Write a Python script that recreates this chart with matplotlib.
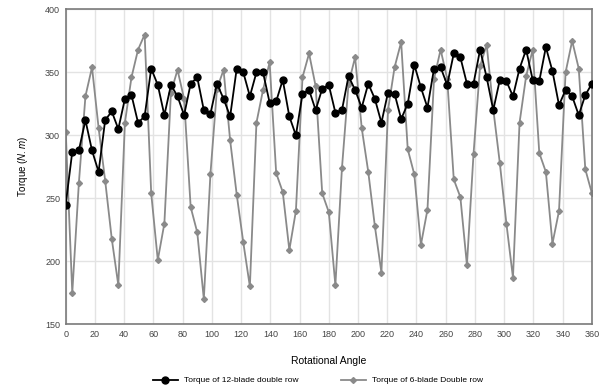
"""
Torque vs rotational angle for 12-blade and 6-blade double-row rotors.
"""

import matplotlib
matplotlib.use("Agg")
import matplotlib.pyplot as plt

plt.rcParams['font.family'] = ['Liberation Sans', 'DejaVu Sans']
plt.rcParams['mathtext.fontset'] = 'custom'
plt.rcParams['mathtext.rm'] = 'Liberation Sans'
plt.rcParams['mathtext.it'] = 'Liberation Sans:italic'

# Rotational angle (deg), one sample every 4.5 deg
angles = [0, 4.5, 9, 13.5, 18, 22.5, 27, 31.5, 36, 40.5,
          45, 49.5, 54, 58.5, 63, 67.5, 72, 76.5, 81, 85.5,
          90, 94.5, 99, 103.5, 108, 112.5, 117, 121.5, 126, 130.5,
          135, 139.5, 144, 148.5, 153, 157.5, 162, 166.5, 171, 175.5,
          180, 184.5, 189, 193.5, 198, 202.5, 207, 211.5, 216, 220.5,
          225, 229.5, 234, 238.5, 243, 247.5, 252, 256.5, 261, 265.5,
          270, 274.5, 279, 283.5, 288, 292.5, 297, 301.5, 306, 310.5,
          315, 319.5, 324, 328.5, 333, 337.5, 342, 346.5, 351, 355.5,
          360]

torque_12_blade = [245, 287, 288, 312, 288, 271, 312, 319, 305, 329,
                   332, 310, 315, 353, 340, 316, 340, 331, 316, 341,
                   346, 320, 317, 341, 329, 315, 353, 350, 331, 350,
                   350, 326, 327, 344, 315, 300, 333, 336, 320, 337,
                   340, 318, 320, 347, 336, 322, 341, 329, 310, 334,
                   333, 313, 325, 356, 338, 322, 353, 354, 340, 365,
                   362, 341, 341, 368, 346, 320, 344, 343, 331, 353,
                   368, 344, 343, 370, 351, 324, 336, 331, 316, 332,
                   341]

torque_6_blade = [303, 175, 262, 331, 354, 306, 264, 218, 181, 310,
                  346, 368, 380, 254, 201, 230, 334, 352, 329, 243,
                  223, 170, 269, 337, 352, 296, 253, 215, 180, 310,
                  336, 358, 270, 255, 209, 240, 346, 365, 339, 254,
                  239, 181, 274, 341, 362, 306, 271, 228, 191, 320,
                  354, 374, 289, 269, 213, 241, 345, 368, 345, 265,
                  251, 197, 285, 355, 372, 321, 278, 230, 187, 310,
                  347, 368, 286, 271, 214, 240, 350, 375, 353, 273,
                  254]

fig = plt.figure(figsize=(6.0, 3.9), dpi=100)
ax = fig.add_axes([0.1095, 0.1685, 0.877, 0.8075])

ax.plot(angles, torque_12_blade, color='black', linewidth=1.3,
        marker='o', markersize=5, label='Torque of 12-blade double row', zorder=3)
ax.plot(angles, torque_6_blade, color='#8a8a8a', linewidth=1.3,
        marker='D', markersize=3, label='Torque of 6-blade Double row', zorder=2)

ax.set_xlim(0, 360)
ax.set_ylim(150, 400)
ax.set_xticks(range(0, 361, 20))
ax.set_yticks(range(150, 401, 50))
ax.grid(True, color='#e3e3e3', linewidth=1.0)
ax.set_axisbelow(True)
ax.tick_params(length=0, labelsize=6.5, labelcolor='#444444', pad=4)

for spine in ax.spines.values():
    spine.set_color('#7a7a7a')
    spine.set_linewidth(1.2)

ax.set_xlabel('Rotational Angle', fontsize=7.5, labelpad=12)
ax.set_ylabel(r'Torque ($\mathit{N.m}$)', fontsize=7, labelpad=11)

fig.legend(loc='lower center', bbox_to_anchor=(0.53, -0.005), ncol=2,
           frameon=False, fontsize=6, handlelength=3, columnspacing=5)

fig.savefig('out.png', dpi=100)
